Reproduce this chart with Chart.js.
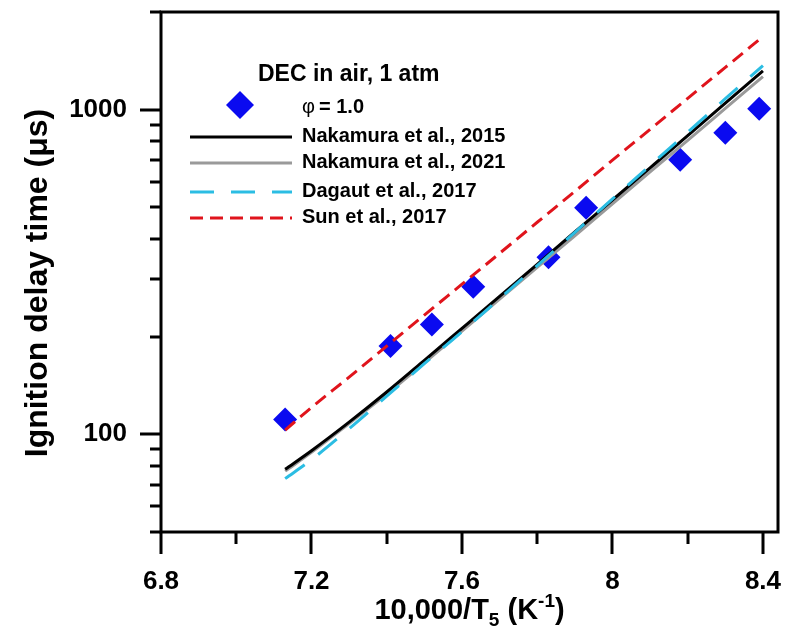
<!DOCTYPE html>
<html>
<head>
<meta charset="utf-8">
<script src="https://cdn.jsdelivr.net/npm/chart.js@4.4.1/dist/chart.umd.min.js"></script>
<style>
  html, body { margin: 0; padding: 0; background: #fff; }
  #wrap { width: 790px; height: 636px; }
</style>
</head>
<body>
<div id="wrap"><canvas id="idtChart" width="790" height="636"></canvas></div>
<script>
// Måledata: DEC i luft, 1 atm, phi = 1.0
const expX = [7.13, 7.41, 7.52, 7.63, 7.83, 7.93, 8.18, 8.30, 8.39];
const expY = [111, 187, 218, 285, 351, 499, 701, 849, 1006];

// Modelkurver på samme x-gitter (10000/T5)
const modelX = [7.13, 7.2, 7.3, 7.4, 7.5, 7.6, 7.7, 7.8, 7.9, 8.0, 8.1, 8.2, 8.3, 8.4];
const nakamura2015 = [78, 89, 109, 135, 169, 212, 266, 334, 420, 527, 662, 832, 1047, 1318];
const nakamura2021 = [77, 88, 108, 133, 166, 208, 261, 327, 409, 513, 643, 805, 1009, 1265];
const dagaut2017 = [73, 83.5, 104, 131, 165, 207, 262, 331, 419, 531, 673, 853, 1081, 1368];
const sun2017 = [103, 121, 150, 187, 233, 290, 361, 450, 560, 699, 870, 1084, 1350, 1680];

// Akser
const xTickValues = [6.8, 7.0, 7.2, 7.4, 7.6, 7.8, 8.0, 8.2, 8.4];
const xLabelValues = [6.8, 7.2, 7.6, 8.0, 8.4];
const yTickValues = [50, 60, 70, 80, 90, 100, 200, 300, 400, 500, 600, 700, 800, 900, 1000, 2000];
const yLabelValues = [100, 1000];

const FONT = "'Liberation Sans', Arial, sans-serif";

function toPoints(xs, ys) {
    return xs.map((x, i) => ({ x: x, y: ys[i] }));
}

function lineSet(label, values, color, dash, order) {
    return {
        label: label,
        data: toPoints(modelX, values),
        showLine: true,
        borderColor: color,
        borderWidth: 3,
        borderDash: dash,
        pointRadius: 0,
        cubicInterpolationMode: 'monotone',
        fill: false,
        order: order
    };
}

const datasets = [
    {
        label: 'φ = 1.0',
        data: toPoints(expX, expY),
        pointStyle: 'rectRot',
        pointRadius: 12,
        pointBackgroundColor: '#0a0af0',
        pointBorderColor: '#0a0af0',
        pointBorderWidth: 0,
        showLine: false,
        order: 10
    },
    lineSet('Nakamura et al., 2015', nakamura2015, '#000000', [], 3),
    lineSet('Nakamura et al., 2021', nakamura2021, '#9a9a9a', [], 4),
    lineSet('Dagaut et al., 2017', dagaut2017, '#2bbde3', [24, 17], 2),
    lineSet('Sun et al., 2017', sun2017, '#e0141c', [13, 7], 1)
];

// skalaerne skal ikke reservere ekstra plads til etiketterne
function noScalePadding(s) {
    s.paddingTop = 0;
    s.paddingBottom = 0;
    s.paddingLeft = 0;
    s.paddingRight = 0;
}

// Ramme, tick-streger, aksetitler og forklaring tegnes her
const decorations = {
    id: 'decorations',
    afterDatasetsDraw(chart) {
        const ctx = chart.ctx;
        const xs = chart.scales.x;
        const ys = chart.scales.y;
        const a = chart.chartArea;
        ctx.save();
        ctx.strokeStyle = '#000';
        ctx.lineWidth = 3;
        ctx.lineCap = 'butt';

        // ramme rundt om plotområdet
        ctx.strokeRect(a.left, a.top, a.right - a.left, a.bottom - a.top);

        // tick-streger
        ctx.beginPath();
        xTickValues.forEach(v => {
            const px = Math.round(xs.getPixelForValue(v));
            const len = xLabelValues.some(m => Math.abs(m - v) < 1e-6) ? 22 : 12;
            ctx.moveTo(px, a.bottom);
            ctx.lineTo(px, a.bottom + len);
        });
        yTickValues.forEach(v => {
            const py = Math.round(ys.getPixelForValue(v));
            const len = yLabelValues.includes(v) ? 21 : 11;
            ctx.moveTo(a.left, py);
            ctx.lineTo(a.left - len, py);
        });
        ctx.stroke();

        // y-aksens titel
        ctx.fillStyle = '#000';
        ctx.font = 'bold 32px ' + FONT;
        ctx.textAlign = 'center';
        ctx.textBaseline = 'middle';
        ctx.save();
        ctx.translate(38, 283);
        ctx.rotate(-Math.PI / 2);
        ctx.fillText('Ignition delay time (μs)', 0, 0);
        ctx.restore();

        // x-aksens titel med sænket 5 og hævet -1
        const parts = [
            { t: '10,000/T', size: 29, dy: 0 },
            { t: '5', size: 19, dy: 7 },
            { t: ' (K', size: 29, dy: 0 },
            { t: '-1', size: 19, dy: -12 },
            { t: ')', size: 29, dy: 0 }
        ];
        let total = 0;
        parts.forEach(p => {
            ctx.font = 'bold ' + p.size + 'px ' + FONT;
            p.w = ctx.measureText(p.t).width;
            total += p.w;
        });
        let tx = (a.left + a.right) / 2 - total / 2;
        ctx.textAlign = 'left';
        ctx.textBaseline = 'alphabetic';
        parts.forEach(p => {
            ctx.font = 'bold ' + p.size + 'px ' + FONT;
            ctx.fillText(p.t, tx, 619 + p.dy);
            tx += p.w;
        });

        // forklaring
        ctx.textBaseline = 'middle';
        ctx.font = 'bold 23px ' + FONT;
        ctx.fillText('DEC in air, 1 atm', 258, 75);

        const pt = chart.data.datasets[0];
        ctx.fillStyle = pt.pointBackgroundColor;
        ctx.beginPath();
        ctx.moveTo(240, 91);
        ctx.lineTo(254, 105);
        ctx.lineTo(240, 119);
        ctx.lineTo(226, 105);
        ctx.closePath();
        ctx.fill();

        ctx.fillStyle = '#000';
        ctx.font = '20px ' + FONT;
        ctx.fillText('φ', 302, 107);
        const phiW = ctx.measureText('φ').width;
        ctx.font = 'bold 20px ' + FONT;
        ctx.fillText(pt.label.replace('φ', '').trimStart(), 302 + phiW + 4, 107);

        const rows = [137, 163, 192, 218];
        chart.data.datasets.slice(1).forEach((ds, i) => {
            const y = rows[i];
            ctx.strokeStyle = ds.borderColor;
            ctx.lineWidth = 3;
            ctx.setLineDash(ds.borderDash);
            ctx.beginPath();
            ctx.moveTo(190, y);
            ctx.lineTo(292, y);
            ctx.stroke();
            ctx.setLineDash([]);
            ctx.fillStyle = '#000';
            ctx.fillText(ds.label, 302, y - 1);
        });
        ctx.restore();
    }
};

new Chart(document.getElementById('idtChart'), {
    type: 'scatter',
    data: { datasets: datasets },
    options: {
        responsive: false,
        animation: false,
        layout: { padding: { left: 0, right: 5, top: 11, bottom: 0 } },
        plugins: {
            legend: { display: false },
            tooltip: { enabled: false }
        },
        scales: {
            x: {
                type: 'linear',
                min: 6.8,
                max: 8.44,
                afterBuildTicks: s => { s.ticks = xTickValues.map(v => ({ value: v })); },
                afterFit: s => { s.height = 104; noScalePadding(s); },
                grid: { display: false, drawTicks: false },
                border: { display: false },
                ticks: {
                    padding: 34,
                    color: '#000',
                    font: { family: FONT, size: 26, weight: 'bold' },
                    maxRotation: 0,
                    autoSkip: false,
                    callback: v => xLabelValues.some(m => Math.abs(m - v) < 1e-6) ? String(Number(v.toFixed(1))) : ''
                }
            },
            y: {
                type: 'logarithmic',
                min: 50,
                max: 2000,
                afterBuildTicks: s => { s.ticks = yTickValues.map(v => ({ value: v })); },
                afterFit: s => { s.width = 161; noScalePadding(s); },
                grid: { display: false, drawTicks: false },
                border: { display: false },
                ticks: {
                    padding: 34,
                    color: '#000',
                    font: { family: FONT, size: 26, weight: 'bold' },
                    autoSkip: false,
                    callback: v => yLabelValues.includes(v) ? String(v) : ''
                }
            }
        }
    },
    plugins: [decorations]
});
</script>
</body>
</html>
